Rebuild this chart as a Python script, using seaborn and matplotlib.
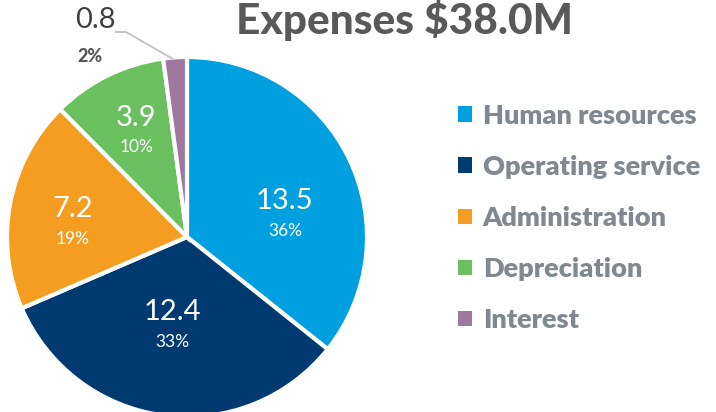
import matplotlib
matplotlib.use("Agg")
import matplotlib.pyplot as plt
import matplotlib.patches as mpatches
import seaborn as sns
import numpy as np

categories = ["Human resources", "Operating service", "Administration", "Depreciation", "Interest"]
values = [13.5, 12.4, 7.2, 3.9, 0.8]
pct_labels = ["36%", "33%", "19%", "10%", "2%"]
hex_colors = ["#009FDF", "#003A70", "#F59D20", "#6ABF5E", "#A0789F"]
title_text = "Expenses $38.0M"

sns.set_theme(style="white")
plt.rcParams["font.family"] = ["Lato", "DejaVu Sans"]
palette = sns.color_palette(hex_colors)

fig = plt.figure(figsize=(7.16, 4.12), dpi=100)
ax = fig.add_axes([7 / 716, -5 / 412, 360 / 716, 360 / 412])
wedges, _ = ax.pie(values, colors=palette, startangle=90, counterclock=False,
                   wedgeprops=dict(edgecolor="white", linewidth=3), radius=1.0)
ax.set_xlim(-1, 1)
ax.set_ylim(-1, 1)
ax.set_aspect("equal")
ax.axis("off")

# label anchors (radius, angle-offset in degrees) relative to wedge mid-angle
label_r = [0.56, 0.49, 0.64, 0.66]
label_da = [-12, -2, 3, -1]
for i, w in enumerate(wedges[:4]):
    mid = np.deg2rad((w.theta1 + w.theta2) / 2 + label_da[i])
    x, y = label_r[i] * np.cos(mid), label_r[i] * np.sin(mid)
    ax.text(x, y + 0.065, f"{values[i]:.1f}", ha="center", va="center",
            color="white", fontsize=21)
    ax.text(x, y - 0.1, pct_labels[i], ha="center", va="center",
            color="white", fontsize=12.5)

# small slice outside label with leader line
w = wedges[4]
mid = np.deg2rad((w.theta1 + w.theta2) / 2)
ex, ey = np.cos(mid) * 1.0, np.sin(mid) * 1.0
fig_to_data = lambda px, py: ((px - 187) / 180, (237 - py) / 180)
p1 = fig_to_data(115, 32)
p2 = fig_to_data(126, 32)
ax.plot([p1[0], p2[0], ex - 0.01], [p1[1], p2[1], ey - 0.01], color="#C0C0C0",
        lw=1.3, clip_on=False, solid_capstyle="butt")
t1 = fig_to_data(95, 20)
t2 = fig_to_data(90, 57)
ax.text(t1[0], t1[1], f"{values[4]:.1f}", ha="center", va="center",
        color="#404040", fontsize=21, clip_on=False)
ax.text(t2[0], t2[1], pct_labels[4], ha="center", va="center",
        color="#555555", fontsize=13, fontweight=900, clip_on=False)

fig.text(405 / 716, 1 - 20 / 412, title_text, ha="center", va="center",
         fontsize=30.5, fontweight=900, color="#595959")

handles = [mpatches.Patch(facecolor=c, edgecolor="none") for c in palette]
leg = fig.legend(handles, categories, loc="center left",
                 bbox_to_anchor=(447 / 716, 1 - 218 / 412), frameon=False,
                 prop=dict(family=["Lato"], weight=800, size=19.5),
                 labelspacing=1.0, handlelength=0.52,
                 handleheight=0.52, handletextpad=0.4, borderaxespad=0)
for t in leg.get_texts():
    t.set_color("#808890")

fig.savefig("out.png", dpi=100)
